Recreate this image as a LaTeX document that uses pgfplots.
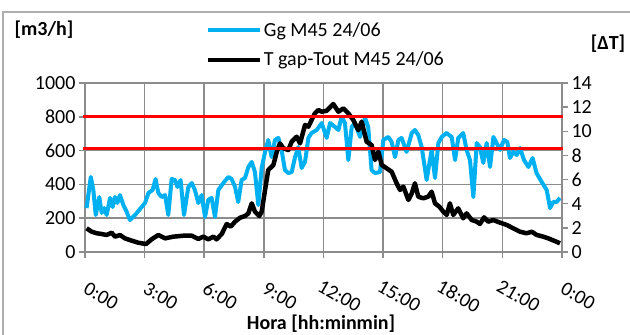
\documentclass[border=0pt]{standalone}
\usepackage{pgfplots}
\pgfplotsset{compat=1.18}
\usepackage{fontspec}
\setmainfont{Carlito}

\definecolor{ggblue}{RGB}{0,176,240}
\definecolor{gridgray}{RGB}{140,140,140}

\pgfplotsset{
  chartbase/.style={
    scale only axis, width=477pt, height=169pt,
    at={(0pt,0pt)}, anchor=south west,
    xmin=0, xmax=24,
    axis line style={gridgray, line width=1.5pt},
    tick style={gridgray, line width=1.5pt},
    tick align=outside, major tick length=6pt,
    ticklabel style={font=\fontsize{20}{24}\selectfont},
    /pgf/number format/assume math mode=true,
    /pgf/number format/1000 sep={},
    clip=false,
  },
}

\begin{document}
\begin{tikzpicture}[x=1pt,y=1pt]
\useasboundingbox (-85,-83) rectangle (545,252);
\draw[gridgray!70, line width=1.2pt] (-82,-83) -- (-82,240) -- (545,240);

\begin{axis}[chartbase,
  ymin=0, ymax=1000, ytick={0,200,...,1000},
  xtick={0,3,...,24},
  xticklabels={0:00,3:00,6:00,9:00,12:00,15:00,18:00,21:00,0:00},
  xticklabel style={xshift=16pt, yshift=-38pt, rotate=-30, anchor=center},
  xtick pos=bottom, ytick pos=left,
  grid=major, major grid style={gridgray, line width=1.5pt},
  legend style={draw=none, fill=none, at={(0.252,1.37)}, anchor=north west,
    font=\fontsize{20}{24}\selectfont, row sep=10pt, inner sep=0pt},
  legend cell align=left,
  legend image code/.code={\draw[#1] (0pt,0pt) -- (52pt,0pt);},
]
\addplot[ggblue, line width=4pt, line join=round] coordinates {
(0.08,260)(0.29,444)(0.42,367)(0.54,219)(0.72,325)(0.84,231)(0.97,260)(1.09,219)
(1.26,320)(1.39,266)(1.51,325)(1.63,290)(1.76,337)(1.93,278)(2.1,237)(2.26,189)
(2.52,219)(2.85,266)(3.02,290)(3.19,349)(3.4,367)(3.55,432)(3.69,349)(3.86,325)
(4.03,337)(4.19,219)(4.36,432)(4.53,426)(4.65,385)(4.81,426)(4.98,219)(5.2,385)
(5.37,408)(5.53,367)(5.7,290)(5.87,337)(6.04,207)(6.2,308)(6.37,320)(6.54,207)
(6.71,367)(6.96,408)(7.21,444)(7.38,432)(7.55,385)(7.71,296)(7.88,426)(8.05,438)
(8.22,503)(8.39,533)(8.55,473)(8.72,278)(8.89,497)(9.06,592)(9.22,663)(9.39,562)
(9.56,663)(9.73,675)(9.89,604)(10.06,485)(10.23,467)(10.4,473)(10.57,562)(10.73,621)
(10.9,497)(11.07,533)(11.24,675)(11.4,704)(11.66,722)(11.91,763)(12.16,675)(12.33,763)
(12.58,740)(12.75,722)(12.91,799)(13.08,763)(13.25,544)(13.42,740)(13.58,763)(13.84,681)
(14.09,793)(14.25,740)(14.42,485)(14.59,467)(14.84,473)(15.01,663)(15.26,681)(15.43,651)
(15.6,562)(15.77,663)(15.93,675)(16.18,592)(16.44,704)(16.6,722)(16.77,692)(16.94,621)
(17.19,426)(17.44,604)(17.61,438)(17.78,645)(17.95,681)(18.19,704)(18.45,681)(18.62,544)
(18.78,675)(19.03,704)(19.2,604)(19.37,544)(19.54,325)(19.71,645)(19.87,621)(20.04,527)
(20.21,645)(20.38,503)(20.55,681)(20.71,645)(20.88,604)(21.08,663)(21.25,651)(21.38,556)
(21.55,592)(21.72,574)(21.89,615)(22.09,544)(22.31,503)(22.52,556)(22.72,467)(22.98,414)
(23.23,367)(23.4,260)(23.56,296)(23.73,296)(23.9,320)
};
\addlegendentry{Gg M45 24/06}
\addlegendimage{black, line width=4.5pt}
\addlegendentry{T gap-Tout M45 24/06}
\end{axis}

\begin{axis}[chartbase,
  ymin=0, ymax=14, ytick={0,2,...,14},
  axis x line=none, axis y line*=right,
  ytick pos=right,
]
\addplot[black, line width=4.5pt, line join=round] coordinates {
(0.08,1.96)(0.34,1.68)(0.59,1.55)(0.84,1.49)(1.09,1.41)(1.34,1.6)(1.51,1.27)(1.76,1.41)
(2.01,1.13)(2.35,0.94)(2.68,0.77)(3.07,0.66)(3.35,1.05)(3.69,1.41)(4.03,1.13)(4.44,1.27)
(4.95,1.35)(5.37,1.35)(5.7,1.08)(5.95,1.27)(6.2,1.05)(6.46,1.27)(6.62,1.05)(6.88,1.49)
(7.13,2.32)(7.33,2.1)(7.55,2.51)(7.8,2.84)(8.05,2.98)(8.22,3.2)(8.39,4.03)(8.55,3.34)
(8.77,2.98)(8.89,3.34)(9.06,5.14)(9.22,6.79)(9.48,7.21)(9.65,8.31)(9.81,9.0)(9.98,8.59)
(10.23,8.45)(10.4,9.14)(10.65,9.55)(10.82,9.0)(11.07,10.52)(11.24,10.38)(11.4,10.93)(11.57,11.49)
(11.74,11.76)(11.91,11.62)(12.16,11.7)(12.49,12.26)(12.75,11.62)(13.0,11.9)(13.25,11.49)(13.5,10.93)
(13.75,10.1)(13.92,10.8)(14.17,9.14)(14.42,8.86)(14.59,7.62)(14.76,8.31)(14.93,7.21)(15.18,6.93)
(15.43,6.65)(15.68,5.69)(15.85,5.14)(16.02,5.41)(16.27,4.31)(16.44,4.86)(16.6,5.69)(16.77,4.58)
(17.02,4.45)(17.27,4.58)(17.44,5.0)(17.61,4.03)(17.83,3.75)(18.03,3.34)(18.2,3.07)(18.36,4.03)
(18.53,3.07)(18.78,3.62)(19.03,2.79)(19.2,3.2)(19.46,2.65)(19.71,2.51)(19.87,2.32)(20.08,2.87)
(20.29,2.51)(20.54,2.65)(20.88,2.43)(21.22,2.24)(21.55,1.96)(21.89,1.68)(22.22,1.55)(22.48,1.68)
(22.73,1.41)(23.06,1.27)(23.31,1.13)(23.65,0.9)(23.9,0.72)
};
% red reference lines (800 and 610 m3/h)
\addplot[red, line width=3pt] coordinates {(-0.1,11.2)(24.05,11.2)};
\addplot[red, line width=3pt] coordinates {(-0.1,8.54)(24.05,8.54)};
\end{axis}

\node[font=\bfseries\fontsize{20}{24}\selectfont] at (-41,222) {[m3/h]};
\node[font=\bfseries\fontsize{20}{24}\selectfont] at (523,208) {[ΔT]};
\node[font=\bfseries\fontsize{20}{24}\selectfont] at (236,-72) {Hora [hh:minmin]};
\end{tikzpicture}
\end{document}
